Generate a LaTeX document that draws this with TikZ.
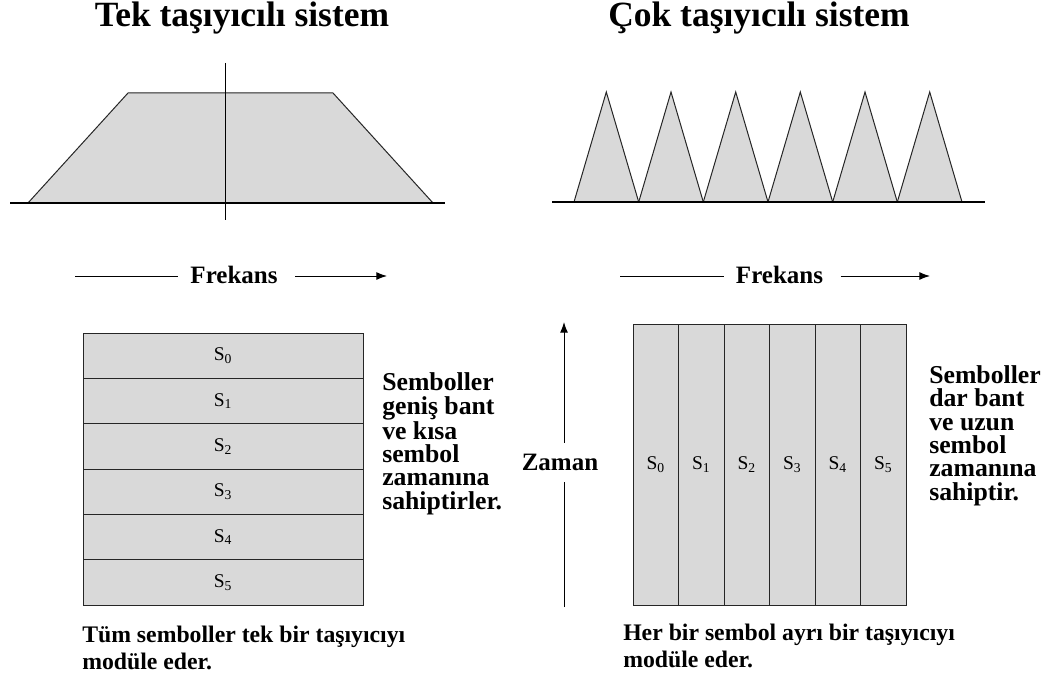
\documentclass[tikz,border=0pt]{standalone}
\usepackage{fontspec}
\setmainfont{Liberation Serif}
\usepackage{tikz}
\usetikzlibrary{arrows.meta,positioning}
\definecolor{bandgray}{HTML}{D9D9D9}
\tikzset{
  band-shape/.style={draw=black!85, fill=bandgray, line width=0.75pt},
  freq-axis/.style={line width=1.6pt},
  sym-row/.style={draw=black!85, fill=bandgray, line width=0.75pt, outer sep=0pt, inner sep=0pt,
    minimum width=210pt, minimum height=34pt, font=\fontsize{14.6}{17}\selectfont},
  sym-col/.style={draw=black!85, fill=bandgray, line width=0.75pt, outer sep=0pt, inner sep=0pt,
    minimum width=34.125pt, minimum height=210.75pt, font=\fontsize{14.6}{17}\selectfont},
  sys-title/.style={font=\fontsize{26.6}{30}\selectfont\bfseries, anchor=base, inner sep=0pt},
  side-note/.style={font=\fontsize{19.3}{17.5}\selectfont\bfseries, align=left, anchor=base west, inner sep=0pt},
  foot-note/.style={font=\fontsize{17.8}{19.9}\selectfont\bfseries, align=left, anchor=base west, inner sep=0pt},
  axis-label/.style={font=\fontsize{18.75}{22}\selectfont\bfseries, inner ysep=0pt, inner xsep=9pt},
  axis-arrow/.style={line width=0.75pt, -{Latex[length=8pt,width=6pt]}}
}

\begin{document}
\begin{tikzpicture}[x=0.75pt, y=-0.75pt]
  \useasboundingbox (0,0) rectangle (1052,681);

  % Titles
  \node[sys-title] (tekTitle) at (242,27) {Tek taşıyıcılı sistem};
  \node[sys-title] (cokTitle) at (759,27) {Çok taşıyıcılı sistem};

  % Single carrier spectrum
  \draw[band-shape] (28,203) -- (128,93) -- (333,93) -- (433,203);
  \draw[freq-axis] (10,203) -- (445,203);
  \draw[line width=0.75pt] (225,63) -- (225,220);

  % Multi carrier spectrum
  \draw[band-shape] (574,202) -- (606.3,92) -- (638.7,202);
  \draw[band-shape] (638.7,202) -- (671,92) -- (703.3,202);
  \draw[band-shape] (703.3,202) -- (735.7,92) -- (768,202);
  \draw[band-shape] (768,202) -- (800.3,92) -- (832.7,202);
  \draw[band-shape] (832.7,202) -- (865,92) -- (897.3,202);
  \draw[band-shape] (897.3,202) -- (929.7,92) -- (962,202);
  \draw[freq-axis] (552,202) -- (985,202);

  % Frequency axes
  \node[axis-label, anchor=base] (frekL) at (234,283) {Frekans};
  \coordinate (frekLa) at (75,276);
  \coordinate (frekLb) at (387,276);
  \draw[line width=0.75pt] (frekLa) -- (frekLa -| frekL.west);
  \draw[axis-arrow, shorten <=4pt] (frekLb -| frekL.east) -- (frekLb);

  \node[axis-label, anchor=base] (frekR) at (779.5,283) {Frekans};
  \coordinate (frekRa) at (620,276);
  \coordinate (frekRb) at (930,276);
  \draw[line width=0.75pt] (frekRa) -- (frekRa -| frekR.west);
  \draw[axis-arrow, shorten <=4pt] (frekRb -| frekR.east) -- (frekRb);

  % Single carrier symbols (stacked in time)
  \node[sym-row] (row0) at (223,355.67) {S\textsubscript{0}};
  \node[sym-row, below=0pt of row0] (row1) {S\textsubscript{1}};
  \node[sym-row, below=0pt of row1] (row2) {S\textsubscript{2}};
  \node[sym-row, below=0pt of row2] (row3) {S\textsubscript{3}};
  \node[sym-row, below=0pt of row3] (row4) {S\textsubscript{4}};
  \node[sym-row, below=0pt of row4] (row5) {S\textsubscript{5}};

  % base = last line
  \node[side-note] (tekNote) at (382,509) {Semboller\\geniş bant\\ve kısa\\sembol\\zamanına\\sahiptirler.};
  \node[foot-note] (tekFoot) at (82,669) {Tüm semboller tek bir taşıyıcıyı\\modüle eder.};

  % Time axis
  \node[axis-label, minimum height=29.25pt] (zaman) at (560,462.5) {Zaman};
  \coordinate (zamanBot) at (564,607);
  \coordinate (zamanTop) at (564,322);
  \draw[line width=0.75pt] (zamanBot) -- (zamanBot |- zaman.south);
  \draw[axis-arrow] (zamanTop |- zaman.north) -- (zamanTop);

  % Multi carrier symbols (side by side in frequency)
  \node[sym-col] (col0) at (655.75,464.5) {S\textsubscript{0}};
  \node[sym-col, right=0pt of col0] (col1) {S\textsubscript{1}};
  \node[sym-col, right=0pt of col1] (col2) {S\textsubscript{2}};
  \node[sym-col, right=0pt of col2] (col3) {S\textsubscript{3}};
  \node[sym-col, right=0pt of col3] (col4) {S\textsubscript{4}};
  \node[sym-col, right=0pt of col4] (col5) {S\textsubscript{5}};

  \node[side-note] (cokNote) at (929,500) {Semboller\\dar bant\\ve uzun\\sembol\\zamanına\\sahiptir.};
  \node[foot-note] (cokFoot) at (623,667) {Her bir sembol ayrı bir taşıyıcıyı\\modüle eder.};
\end{tikzpicture}
\end{document}
